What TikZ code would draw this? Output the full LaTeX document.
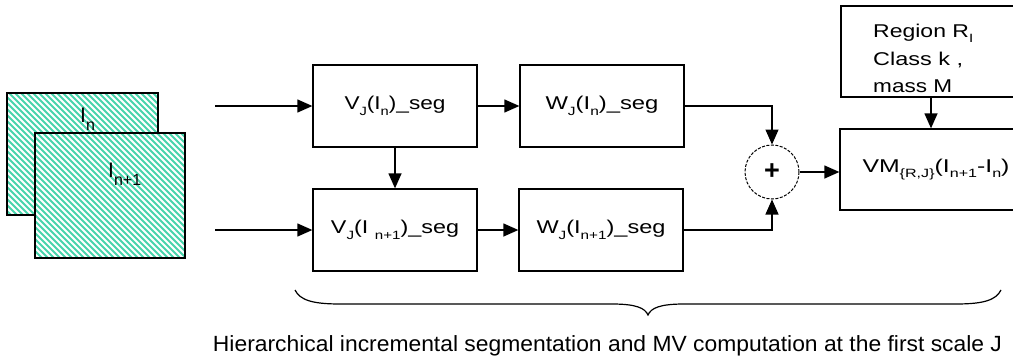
\documentclass[tikz,border=0pt]{standalone}
\usepackage{fontspec}
\setmainfont{Liberation Sans}
\usetikzlibrary{arrows.meta}
\definecolor{hatchc}{RGB}{72,212,172}
\newcommand\lsub[1]{\raisebox{-0.3em}{\fontsize{12}{12}\selectfont #1}}
\newcommand\bsub[1]{\raisebox{-0.4em}{\fontsize{16}{16}\selectfont #1}}
\newcommand\fitw[2]{\resizebox{#1pt}{\height}{#2}}
\begin{document}
\begin{tikzpicture}[x=1pt,y=-1pt,
  blk/.style={draw, line width=1.3pt, minimum width=164pt, minimum height=82pt, inner sep=0pt,
    font=\fontsize{18.5}{22}\selectfont},
  conn/.style={line width=1.3pt, -{Triangle[length=15pt,width=13pt]}},
  frame/.style={draw, line width=1.5pt},
  txt/.style={inner sep=0pt, font=\fontsize{18.5}{22}\selectfont},
  hatchline/.style={hatchc, line width=1.8pt}]
\useasboundingbox (0,0) rectangle (1013,359);

% image frames
\fill[white] (7,93) rectangle (158,215);
\begin{scope}
  \clip (7,93) rectangle (158,215);
  \foreach \i in {-300,-294,...,200} \draw[hatchline] (\i,60) -- ++(300,300);
\end{scope}
\draw[frame] (7,93) rectangle (158,215);
\fill[white] (35,133) rectangle (185,258);
\begin{scope}
  \clip (35,133) rectangle (185,258);
  \foreach \i in {-300,-294,...,220} \draw[hatchline] (\i,60) -- ++(300,300);
\end{scope}
\draw[frame] (35,133) rectangle (185,258);
\node[anchor=base west, inner sep=0pt, font=\fontsize{21}{21}\selectfont] (lin) at (80,122) {I\bsub{n}};
\node[anchor=base west, inner sep=0pt, font=\fontsize{21}{21}\selectfont] (linn) at (108,177) {I\bsub{n+1}};

% blocks
\node[blk] (v1) at (395,106) {\fitw{101}{V\lsub{J}(I\lsub{n})\_seg}};
\node[blk] (v2) at (395,230) {\fitw{128}{V\lsub{J}(I \lsub{n+1})\_seg}};
\node[blk] (w1) at (602,106) {\fitw{113}{W\lsub{J}(I\lsub{n})\_seg}};
\node[blk] (w2) at (601,230) {\fitw{129}{W\lsub{J}(I\lsub{n+1})\_seg}};
\node[draw, circle, line width=1pt, dash pattern=on 3pt off 1.5pt, minimum size=54pt, inner sep=0pt,
  font=\bfseries\fontsize{27}{27}\selectfont] (plus) at (772,172) {+};
\node[blk, minimum width=192pt, minimum height=81pt] (vm) at (936,169.5)
  {\fitw{147}{VM\lsub{\{R,J\}}(I\lsub{n+1}-I\lsub{n})}};
\node[draw, line width=1.3pt, minimum width=191pt, minimum height=91pt, inner sep=0pt] (reg) at (936.5,51.5) {};
\node[txt, anchor=base west] (r1) at (873,37) {\fitw{100}{Region R\lsub{I}}};
\node[txt, anchor=base west] (r2) at (873,65) {\fitw{90}{Class k ,}};
\node[txt, anchor=base west] (r3) at (873,92) {\fitw{79}{mass M}};

% connectors
\coordinate (in1) at (215,106);
\coordinate (in2) at (215,230);
\coordinate (ax) at (931,0);
\draw[conn] (in1) -- (v1.west);
\draw[conn] (in2) -- (v2.west);
\draw[conn] (v1.south) -- (v2.north);
\draw[conn] (v1.east) -- (w1.west);
\draw[conn] (v2.east) -- (w2.west);
\draw[conn] (w1.east) -| (plus.north);
\draw[conn] (w2.east) -| (plus.south);
\draw[conn] (plus.east) -- (vm.west |- plus.east);
\draw[conn] (reg.south -| ax) -- (vm.north -| ax);

% brace and caption
\draw[line width=1.2pt] (295,290) .. controls (300,300) and (312,304) .. (340,304) -- (612,304)
  .. controls (636,304) and (645,308) .. (648,315) .. controls (651,308) and (660,304) .. (684,304)
  -- (956,304) .. controls (984,304) and (996,300) .. (1001,290);
\node[anchor=base, inner sep=0pt, font=\fontsize{22}{22}\selectfont] (cap) at (607.5,351)
  {\fitw{789}{Hierarchical incremental segmentation and MV computation at the first scale J}};
\end{tikzpicture}
\end{document}
